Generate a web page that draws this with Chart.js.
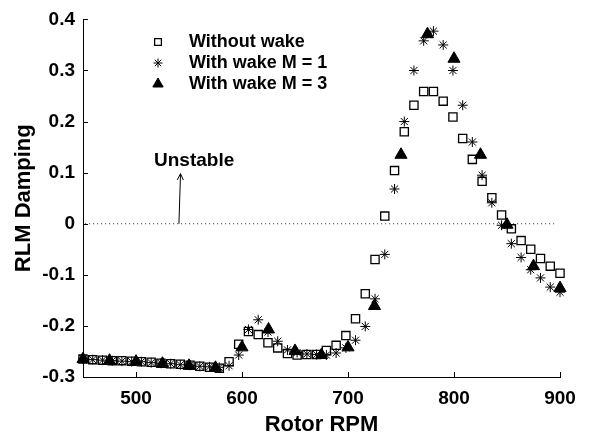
<!DOCTYPE html>
<html>
<head>
<meta charset="utf-8">
<script src="https://cdn.jsdelivr.net/npm/chart.js@4.4.1/dist/chart.umd.min.js"></script>
<style>
  html, body { margin: 0; padding: 0; background: #fff; }
  #wrap { width: 591px; height: 441px; }
</style>
</head>
<body>
<div id="wrap"><canvas id="dampingChart" width="591" height="441"></canvas></div>
<script>
// rotor speeds of the fine sweep (without wake and M = 1 runs)
const rpmFine = [
  450, 459.2, 468.4, 477.6, 486.7, 495.9, 505.1, 514.3, 523.5, 532.7,
  541.8, 551.0, 560.2, 569.4, 578.6, 587.8, 596.9, 606.1, 615.3, 624.5,
  633.7, 642.9, 652.0, 661.2, 670.4, 679.6, 688.8, 698.0, 707.1, 716.3,
  725.5, 734.7, 743.9, 753.1, 762.2, 771.4, 780.6, 789.8, 799.0, 808.2,
  817.3, 826.5, 835.7, 844.9, 854.1, 863.3, 872.4, 881.6, 890.8, 900
];
const withoutWake = [
  -0.265, -0.266, -0.267, -0.268, -0.268, -0.269, -0.270, -0.271, -0.273, -0.274,
  -0.275, -0.277, -0.279, -0.281, -0.283, -0.270, -0.236, -0.211, -0.217, -0.233,
  -0.243, -0.254, -0.257, -0.256, -0.256, -0.248, -0.238, -0.219, -0.186, -0.137,
  -0.070, 0.015, 0.104, 0.180, 0.232, 0.259, 0.259, 0.240, 0.209, 0.167,
  0.126, 0.083, 0.051, 0.017, -0.010, -0.033, -0.050, -0.068, -0.083, -0.097
];
const wakeM1 = [
  -0.265, -0.266, -0.267, -0.268, -0.269, -0.270, -0.270, -0.272, -0.273, -0.274,
  -0.276, -0.277, -0.279, -0.280, -0.281, -0.278, -0.257, -0.207, -0.188, -0.212,
  -0.230, -0.247, -0.252, -0.255, -0.256, -0.257, -0.253, -0.243, -0.228, -0.201,
  -0.147, -0.060, 0.068, 0.200, 0.300, 0.358, 0.377, 0.350, 0.300, 0.232,
  0.160, 0.095, 0.041, -0.003, -0.039, -0.066, -0.090, -0.106, -0.124, -0.134
];
// coarse sweep for M = 3
const rpmCoarse = [450, 475, 500, 525, 550, 575, 600, 625, 650, 675, 700, 725, 750, 775, 800, 825, 850, 875, 900];
const wakeM3 = [
  -0.265, -0.268, -0.270, -0.274, -0.278, -0.282, -0.242, -0.207, -0.249, -0.257,
  -0.242, -0.161, 0.135, 0.371, 0.323, 0.135, -0.002, -0.083, -0.126
];

const seriesNames = ['Without wake', 'With wake M = 1', 'With wake M = 3'];
const xTicks = [500, 600, 700, 800, 900];
const yTicks = [-0.3, -0.2, -0.1, 0, 0.1, 0.2, 0.3, 0.4];
const yTickLabels = ['-0.3', '-0.2', '-0.1', '0', '0.1', '0.2', '0.3', '0.4'];

// "Unstable" note, in data units
const noteText = 'Unstable';
const noteAt = { x: 517, y: 0.124 };
const arrowFrom = { x: 540.5, y: 0 };
const arrowTo = { x: 542, y: 0.098 };

const FONT = '"Liberation Sans", Arial, sans-serif';

const toPoints = (xs, ys) => xs.map((x, i) => ({ x: x, y: ys[i] }));

// ticks drawn on the inside of the axes, like the original figure
const insideTicks = {
  id: 'insideTicks',
  afterDraw(chart) {
    const { ctx, chartArea, scales } = chart;
    ctx.save();
    ctx.strokeStyle = '#000';
    ctx.lineWidth = 1;
    ctx.beginPath();
    xTicks.forEach(v => {
      const px = Math.round(scales.x.getPixelForValue(v)) + 0.5;
      ctx.moveTo(px, chartArea.bottom);
      ctx.lineTo(px, chartArea.bottom - 5);
    });
    yTicks.forEach(v => {
      const py = Math.round(scales.y.getPixelForValue(v)) + 0.5;
      ctx.moveTo(chartArea.left, py);
      ctx.lineTo(chartArea.left + 5, py);
    });
    ctx.stroke();
    ctx.restore();
  }
};

// arrow + label
const unstableNote = {
  id: 'unstableNote',
  afterDatasetsDraw(chart) {
    const { ctx, scales } = chart;
    const x0 = scales.x.getPixelForValue(arrowFrom.x), y0 = scales.y.getPixelForValue(arrowFrom.y);
    const x1 = scales.x.getPixelForValue(arrowTo.x), y1 = scales.y.getPixelForValue(arrowTo.y);
    ctx.save();
    ctx.strokeStyle = '#000';
    ctx.lineWidth = 1;
    ctx.beginPath();
    ctx.moveTo(x0, y0);
    ctx.lineTo(x1, y1);
    const ang = Math.atan2(y1 - y0, x1 - x0);
    const len = 7;
    ctx.moveTo(x1 - len * Math.cos(ang - 0.45), y1 - len * Math.sin(ang - 0.45));
    ctx.lineTo(x1, y1);
    ctx.lineTo(x1 - len * Math.cos(ang + 0.45), y1 - len * Math.sin(ang + 0.45));
    ctx.stroke();
    ctx.fillStyle = '#000';
    ctx.font = 'bold 19px ' + FONT;
    ctx.textAlign = 'left';
    ctx.textBaseline = 'middle';
    ctx.fillText(noteText, scales.x.getPixelForValue(noteAt.x), scales.y.getPixelForValue(noteAt.y));
    ctx.restore();
  }
};

// legend in the upper left of the plot
const innerLegend = {
  id: 'innerLegend',
  afterDraw(chart) {
    const { ctx } = chart;
    const markerX = 158, textX = 189, rowY = [42, 63, 84];
    const legendSizes = [4.8, 4.5, 6];
    ctx.save();
    ctx.font = 'bold 18px ' + FONT;
    ctx.textAlign = 'left';
    ctx.textBaseline = 'middle';
    seriesNames.forEach((name, i) => {
      const ds = chart.data.datasets[i];
      ctx.strokeStyle = '#000';
      ctx.fillStyle = ds.backgroundColor;
      ctx.lineWidth = ds.borderWidth;
      Chart.helpers.drawPoint(ctx, {
        pointStyle: ds.pointStyle,
        radius: legendSizes[i],
        borderWidth: ds.borderWidth,
        rotation: 0
      }, markerX, rowY[i]);
      ctx.fillStyle = '#000';
      ctx.fillText(name, textX, rowY[i]);
    });
    ctx.restore();
  }
};

new Chart(document.getElementById('dampingChart').getContext('2d'), {
  type: 'scatter',
  data: {
    datasets: [
      {
        label: seriesNames[0],
        data: toPoints(rpmFine, withoutWake),
        pointStyle: 'rect',
        pointRadius: 5.8,
        borderWidth: 1.3,
        borderColor: '#000',
        backgroundColor: 'rgba(0,0,0,0)',
        order: 3,
        clip: false
      },
      {
        label: seriesNames[1],
        data: toPoints(rpmFine, wakeM1),
        pointStyle: 'star',
        pointRadius: 5,
        borderWidth: 1,
        borderColor: '#000',
        backgroundColor: '#000',
        order: 2,
        clip: false
      },
      {
        label: seriesNames[2],
        data: toPoints(rpmCoarse, wakeM3),
        pointStyle: 'triangle',
        pointRadius: 7,
        borderWidth: 1,
        borderColor: '#000',
        backgroundColor: '#000',
        order: 1,
        clip: false
      },
      {
        label: 'zero',
        type: 'line',
        data: [{ x: 452, y: 0 }, { x: 897, y: 0 }],
        borderColor: '#333',
        borderWidth: 1,
        borderDash: [1, 3],
        pointRadius: 0,
        order: 4
      }
    ]
  },
  options: {
    responsive: false,
    animation: false,
    devicePixelRatio: 1,
    layout: { padding: { top: 15, right: 31, left: 0, bottom: 0 } },
    plugins: {
      legend: { display: false },
      tooltip: { enabled: false }
    },
    scales: {
      x: {
        type: 'linear',
        min: 450,
        max: 900,
        afterFit: s => { s.height = 64; },
        afterBuildTicks: s => { s.ticks = xTicks.map(v => ({ value: v })); },
        grid: { display: false, drawTicks: false },
        border: { display: true, color: '#000', width: 1 },
        ticks: {
          color: '#000',
          padding: 10,
          maxRotation: 0,
          font: { family: FONT, size: 19, weight: 'bold' }
        },
        title: {
          display: true,
          text: 'Rotor RPM',
          color: '#000',
          padding: { top: 0, bottom: 3 },
          font: { family: FONT, size: 22, weight: 'bold' }
        }
      },
      y: {
        type: 'linear',
        min: -0.3,
        max: 0.4,
        afterFit: s => { s.width = 83; },
        afterBuildTicks: s => { s.ticks = yTicks.map(v => ({ value: v })); },
        grid: { display: false, drawTicks: false },
        border: { display: true, color: '#000', width: 1 },
        ticks: {
          color: '#000',
          padding: 8,
          font: { family: FONT, size: 19, weight: 'bold' },
          callback: (v, i) => yTickLabels[i]
        },
        title: {
          display: true,
          text: 'RLM Damping',
          color: '#000',
          padding: { top: 11, bottom: 0 },
          font: { family: FONT, size: 22, weight: 'bold' }
        }
      }
    }
  },
  plugins: [insideTicks, unstableNote, innerLegend]
});
</script>
</body>
</html>
